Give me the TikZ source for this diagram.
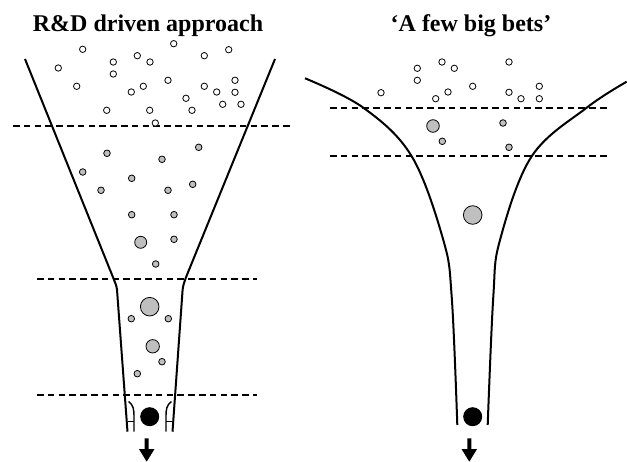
\documentclass[tikz,border=0pt]{standalone}
\usepackage{fontspec}
\setmainfont{Liberation Serif}
\begin{document}
\begin{tikzpicture}[x=1pt,y=-1pt,
  funnel/.style={line width=2pt,line join=round},
  cut/.style={line width=2pt,dash pattern=on 6.5pt off 4.3pt},
  wball/.style={circle,draw,line width=0.8pt,fill=white,inner sep=0pt,minimum size=6.4pt},
  gball/.style={circle,draw,line width=0.8pt,fill=gray!50,inner sep=0pt,minimum size=6.6pt},
  bball/.style={circle,fill=black,inner sep=0pt,minimum size=19pt},
  gate/.style={line width=1.4pt},
  ttl/.style={font=\bfseries\fontsize{24}{28}\selectfont,anchor=base,inner sep=0pt}]
\useasboundingbox (0,0) rectangle (627,462);
% titles
\node[ttl] (t1) at (148,32) {R\&D driven approach};
\node[ttl] (t2) at (471,32) {‘A few big bets’};
% ---------- left funnel ----------
\draw[funnel,rounded corners=3pt] (25,59) -- (113.5,278.5) -- (116.8,287) -- (127.5,431.7);
\draw[funnel,rounded corners=3pt] (275,59) -- (185.5,278.5) -- (182.8,287) -- (172.5,431.7);
% gates
\draw[gate] (128.6,401.5) .. controls (133.5,405) and (134,410) .. (134,416) -- (134,431.7);
\draw[gate] (128.2,421.5) -- (134,421.5);
\draw[gate] (171.4,401.5) .. controls (166.5,405) and (166,410) .. (166,416) -- (166,431.7);
\draw[gate] (171.8,421.5) -- (166,421.5);
% cut lines
\draw[cut] (13,126) -- (293,126);
\draw[cut] (37,279) -- (257,279);
\draw[cut] (37,395) -- (257,395);
% white balls
\foreach \x/\y [count=\i] in {82.7/49.3,58.3/68,76.7/86.3,113.3/62,113.3/74,137.3/55.7,150/62,173.7/43.7,
  168/80.3,143.3/86.3,131.3/92,106.7/110.3,149.7/110.3,155.3/123,186/98.3,192/110.3,204.3/55.7,
  228.7/49.7,204.3/86.3,216.7/92,235/80.3,235/92.3,222.7/104.3,241/104.3}
  \node[wball] (lw\i) at (\x,\y) {};
% grey balls
\foreach \x/\y [count=\i] in {107/153.3,198.7/147.3,162/159.3,82.7/172,131.7/178.3,101/190.3,168/190.3,
  192.7/184.3,131.7/214.7,174/214.7,174/239.3,155.7/264,131.3/318.7,168.3/318.7,162/361.7,137.3/373.7}
  \node[gball] (lg\i) at (\x,\y) {};
\node[gball,minimum size=12pt] (lgA) at (140.7,242.3) {};
\node[gball,minimum size=18.6pt] (lgB) at (149.7,306.7) {};
\node[gball,minimum size=13.4pt] (lgC) at (152.7,346.3) {};
\node[bball] (lb) at (149.7,416.7) {};
% arrow
\fill (144.7,438.3) -- (148.7,438.3) -- (148.7,449) -- (154.5,449) -- (146.7,461.7) -- (138.9,449) -- (144.7,449) -- cycle;
% ---------- right funnel ----------
\draw[funnel] plot[smooth,tension=0.6] coordinates {(305,78.3) (363.3,107.7) (411.7,156.3) (443.3,240) (451.7,296.7) (457.3,425)};
\draw[funnel] plot[smooth,tension=0.6] coordinates {(626.7,81.7) (586.7,107.7) (531.7,156.3) (500,240) (493.3,296.7) (487.7,425)};
\draw[cut] (330,108) -- (608,108);
\draw[cut] (330,156.3) -- (608,156.3);
\foreach \x/\y [count=\i] in {442/62,417.3/68.3,454.3/68.3,417.3/80.3,381/92.7,448/92,435.7/98.7,
  472.7/86.3,509/62,509/92.3,521/98.7,539.3/86.3,539.3/98.7}
  \node[wball] (rw\i) at (\x,\y) {};
\foreach \x/\y [count=\i] in {442.3/141.3,503/123,509/147.3}
  \node[gball] (rg\i) at (\x,\y) {};
\node[gball,minimum size=12.6pt] (rgA) at (433,126) {};
\node[gball,minimum size=18.6pt] (rgB) at (472.7,215) {};
\node[bball] (rb) at (472.7,416.7) {};
\fill (467.3,438.3) -- (471.3,438.3) -- (471.3,449) -- (477.1,449) -- (469.3,461.7) -- (461.5,449) -- (467.3,449) -- cycle;
\end{tikzpicture}
\end{document}
